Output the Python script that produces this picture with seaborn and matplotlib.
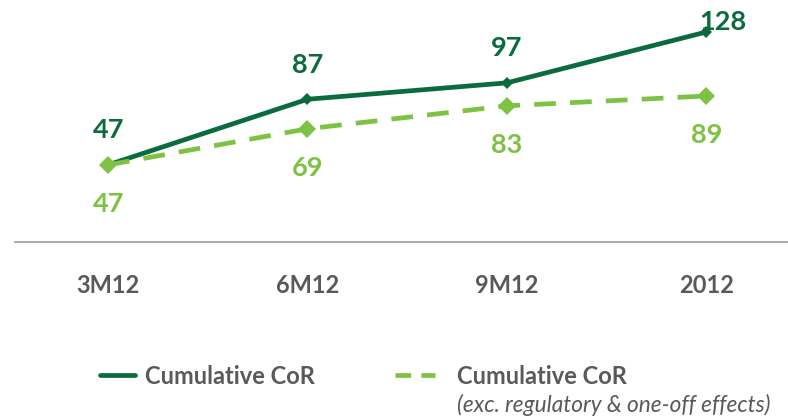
import seaborn as sns
import matplotlib.pyplot as plt
import pandas as pd
from matplotlib.lines import Line2D

periods = ['3M12', '6M12', '9M12', '2012']
cor_total = [47, 87, 97, 128]
cor_excl = [47, 69, 83, 89]
series_names = ['Cumulative CoR', 'Cumulative CoR excl']

dark = '#0A6B3C'
light = '#7DC243'
grey = '#595959'

sns.set_theme(style='white')
plt.rcParams['font.family'] = ['Lato', 'DejaVu Sans']

df = pd.DataFrame({
    'period': periods * 2,
    'value': cor_total + cor_excl,
    'series': [series_names[0]] * 4 + [series_names[1]] * 4,
})
df['x'] = df['period'].map({p: i for i, p in enumerate(periods)})

fig = plt.figure(figsize=(7.88, 4.16), dpi=100)
ax = fig.add_axes([15 / 788, 174 / 416, 773 / 788, 242 / 416])

sns.lineplot(data=df, x='x', y='value', hue='series', style='series',
             palette=[dark, light], dashes=[(1, 0), (4.6, 3.0)],
             markers=['D', 'D'], markersize=8, linewidth=3.4,
             markeredgewidth=0, legend=False, ax=ax)
lines = ax.get_lines()
lines[0].set_markersize(6.5)
lines[1].set_markersize(9.5)
lines[1].set_zorder(3)

ax.set_xlim(-0.467, 3.41)
ax.set_ylim(0, 147.5)
ax.set_xticks(range(len(periods)))
ax.set_xticklabels(periods, fontsize=17, fontweight='bold', color=grey)
ax.tick_params(axis='x', length=0, pad=23)
ax.set_yticks([])
ax.set_xlabel('')
ax.set_ylabel('')
for s in ['top', 'right', 'left']:
    ax.spines[s].set_visible(False)
ax.spines['bottom'].set_color('#A6A6A6')
ax.spines['bottom'].set_linewidth(1.3)

for i, v in enumerate(cor_total):
    if i == len(cor_total) - 1:
        ax.annotate(str(v), (i, v), xytext=(12, 7), textcoords='offset points',
                    ha='center', va='center', fontsize=19.5, fontweight='bold', color=dark)
    else:
        ax.annotate(str(v), (i, v), xytext=(0, 25), textcoords='offset points',
                    ha='center', va='center', fontsize=19.5, fontweight='bold', color=dark)
for i, v in enumerate(cor_excl):
    ax.annotate(str(v), (i, v), xytext=(0, -28), textcoords='offset points',
                ha='center', va='center', fontsize=19.5, fontweight='bold', color=light)

# legend: two separate entries so each can be placed like the original
leg_y = 1 - 376 / 416
leg1 = fig.legend([Line2D([], [], color=dark, lw=3.4)], ['Cumulative CoR'],
                  loc='center left', bbox_to_anchor=(79 / 788, leg_y), frameon=False,
                  handlelength=1.48, handletextpad=0.42,
                  prop={'size': 17, 'weight': 'bold'})
leg2 = fig.legend([Line2D([], [], color=light, lw=3.4, dashes=(3.3, 2.2))], ['Cumulative CoR'],
                  loc='center left', bbox_to_anchor=(374 / 788, leg_y), frameon=False,
                  handlelength=1.7, handletextpad=0.93,
                  prop={'size': 17, 'weight': 'bold'})
for leg in (leg1, leg2):
    for t in leg.get_texts():
        t.set_color(grey)
fig.canvas.draw()
bb = leg2.get_texts()[0].get_window_extent()
fig.text(bb.x0 / 788, 1 - 405 / 416, '(exc. regulatory & one-off effects)',
         fontsize=16.3, style='italic', color=grey, va='center', ha='left')

fig.savefig('out.png', dpi=100)
